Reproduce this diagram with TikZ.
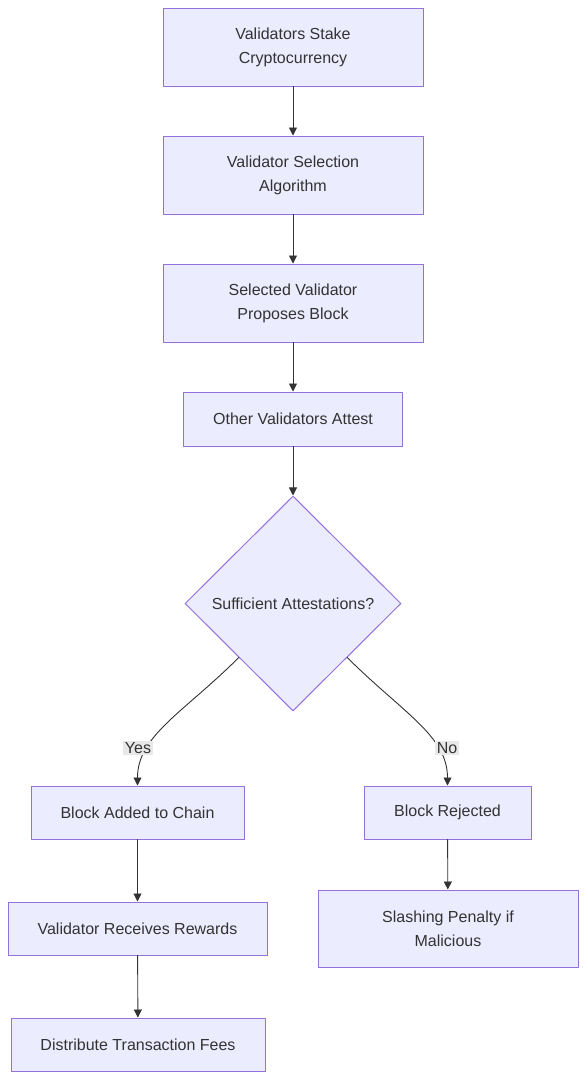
\documentclass[tikz,border=0pt]{standalone}
\usepackage{fontspec}
\setmainfont{Liberation Sans}
\usetikzlibrary{positioning, arrows.meta, shapes.geometric}

\definecolor{nodefill}{HTML}{ECECFF}
\definecolor{nodeborder}{HTML}{9370DB}
\definecolor{inkgray}{HTML}{333333}
\definecolor{labelbg}{HTML}{E8E8E8}

\tikzset{
  box/.style={draw=nodeborder, fill=nodefill, text=inkgray, line width=1pt,
    align=center, inner sep=0pt, font=\fontsize{16}{24}\selectfont},
  decision/.style={box, diamond, aspect=1, minimum width=216pt, minimum height=215pt},
  flow/.style={->, draw=inkgray, line width=0.9pt},
  edgelabel/.style={fill=labelbg, text=inkgray, inner sep=1.5pt,
    font=\fontsize{16}{18}\selectfont}
}

\begin{document}
\begin{tikzpicture}[x=1pt, y=-1pt, line cap=round, line join=round,
    >={Triangle[length=8pt, width=8pt]}]

  % Lienzo (margenes del original)
  \useasboundingbox (0,0) rectangle (586,1080);

  % --- Columna central ---
  \node[box, minimum width=260pt, minimum height=78pt] (stake) at (293,47)
    {Validators Stake\\Cryptocurrency};
  \node[box, minimum width=260pt, minimum height=78pt] (select) at (293,175)
    {Validator Selection\\Algorithm};
  \node[box, minimum width=260pt, minimum height=78pt] (propose) at (293,303)
    {Selected Validator\\Proposes Block};
  \node[box, minimum width=219pt, minimum height=54pt] (attest) at (293,419)
    {Other Validators Attest};
  \node[decision] (enough) at (293,603.5) {Sufficient Attestations?};

  % --- Rama "Yes" ---
  \node[box, minimum width=213pt, minimum height=53pt] (added) at (137.5,812.5)
    {Block Added to Chain};
  \node[box, minimum width=259pt, minimum height=53pt] (rewards) at (137.5,928.5)
    {Validator Receives Rewards};
  \node[box, minimum width=254pt, minimum height=53pt] (fees) at (138,1044.5)
    {Distribute Transaction Fees};

  % --- Rama "No" ---
  \node[box, minimum width=167pt, minimum height=53pt] (rejected) at (447.5,812.5)
    {Block Rejected};
  \node[box, minimum width=260pt, minimum height=77pt] (slash) at (448,928.5)
    {Slashing Penalty if\\Malicious};

  % --- Flechas ---
  \draw[flow] (stake) -- (select);
  \draw[flow] (select) -- (propose);
  \draw[flow] (propose) -- (attest);
  \draw[flow] (attest) -- (enough);
  \draw[flow] (enough.south west) .. controls +(-55,55) and +(0,-50) .. (added.north);
  \draw[flow] (enough.south east) .. controls +(55,55) and +(0,-50) .. (rejected.north);
  \draw[flow] (added) -- (rewards);
  \draw[flow] (rewards) -- (fees);
  \draw[flow] (rejected) -- (slash);

  % --- Etiquetas de las ramas ---
  \node[edgelabel] (yes) at (138,748) {Yes};
  \node[edgelabel] (no) at (447,748) {No};

\end{tikzpicture}
\end{document}
